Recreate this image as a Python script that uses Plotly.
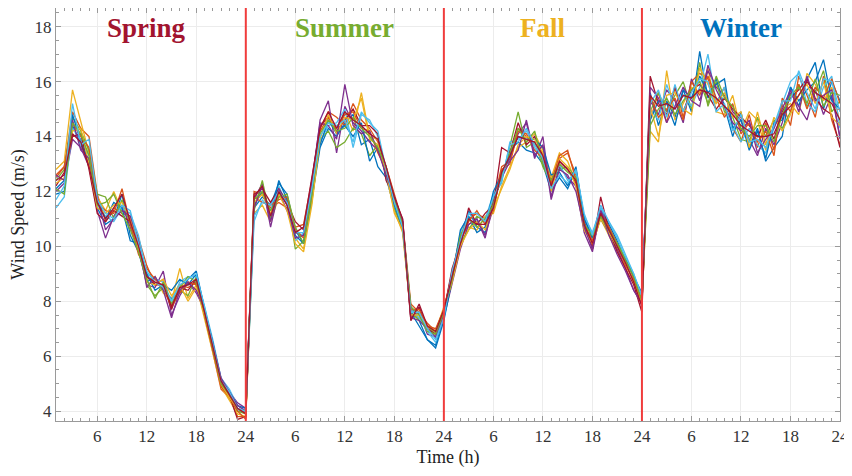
import plotly.graph_objects as go

hours = list(range(1, 97))
season_names = ["Spring", "Summer", "Fall", "Winter"]
season_colors = ["#A2142F", "#77AC30", "#EDB120", "#0072BD"]
season_centers = [12, 36, 60, 84]
season_bounds = [24, 48, 72]
tick_vals = [6, 12, 18, 24, 30, 36, 42, 48, 54, 60, 66, 72, 78, 84, 90, 96]
tick_text = ["6", "12", "18", "24"] * 4
line_colors = ["#0072BD", "#D95319", "#EDB120", "#7E2F8E", "#77AC30", "#4DBEEE", "#A2142F"]

spring = [
    [12.1, 12.4, 14.4, 13.7, 13.0, 11.4, 10.8, 11.0, 11.9, 10.4, 9.8, 8.7, 8.9, 8.4, 8.1, 8.3, 8.8, 9.1, 7.7, 6.3, 5.0, 4.7, 4.0, 4.0],
    [12.6, 12.9, 14.9, 14.3, 14.0, 11.9, 10.9, 11.4, 11.2, 11.1, 10.3, 9.3, 8.6, 8.8, 7.8, 8.6, 8.5, 8.7, 7.5, 6.2, 4.8, 4.5, 3.8, 3.8],
    [12.8, 13.1, 15.7, 14.5, 13.4, 11.8, 11.3, 12.0, 11.3, 11.0, 10.2, 8.8, 8.9, 8.3, 8.0, 9.2, 8.1, 8.6, 7.4, 6.1, 4.9, 4.4, 3.9, 3.8],
    [12.0, 12.3, 13.9, 13.6, 12.9, 11.3, 10.3, 11.1, 11.5, 10.7, 9.9, 8.6, 8.5, 9.1, 7.5, 8.2, 8.7, 8.3, 7.7, 6.5, 5.2, 4.7, 4.3, 4.1],
    [12.4, 12.8, 14.7, 14.2, 13.5, 11.9, 11.8, 11.0, 11.7, 10.8, 10.1, 8.6, 8.2, 8.5, 7.9, 8.4, 8.2, 8.9, 7.6, 6.4, 5.1, 4.6, 4.0, 3.9],
    [11.4, 11.8, 14.3, 13.9, 13.3, 11.5, 11.1, 10.9, 11.4, 11.2, 10.4, 9.0, 8.8, 8.7, 8.0, 8.7, 8.9, 8.9, 7.8, 6.6, 5.2, 4.8, 4.2, 4.0],
    [12.2, 12.7, 14.0, 14.1, 12.8, 11.2, 10.9, 11.3, 11.1, 10.9, 10.0, 8.9, 8.6, 8.6, 7.7, 8.5, 8.4, 8.8, 7.5, 6.3, 5.0, 4.6, 3.7, 3.8],
    [11.9, 12.0, 14.8, 13.8, 13.1, 11.7, 11.0, 11.6, 11.4, 10.2, 10.1, 9.0, 8.4, 8.6, 8.4, 8.8, 8.6, 9.0, 7.7, 6.5, 5.1, 4.7, 4.2, 4.1],
    [12.5, 12.9, 14.5, 14.0, 13.6, 11.6, 11.3, 11.2, 12.1, 10.8, 9.7, 9.2, 8.8, 8.5, 7.8, 8.3, 8.7, 8.6, 7.6, 6.3, 4.9, 4.5, 4.0, 3.7],
    [12.3, 12.5, 14.2, 14.3, 13.0, 11.4, 11.2, 11.5, 11.6, 11.0, 9.9, 8.7, 8.6, 8.8, 8.2, 8.6, 8.0, 8.5, 7.5, 6.4, 5.0, 4.5, 4.1, 3.9],
    [12.6, 12.4, 14.6, 13.5, 13.2, 11.8, 10.6, 11.0, 11.3, 11.1, 10.2, 8.5, 8.9, 8.4, 7.4, 8.4, 8.7, 8.4, 7.7, 6.5, 5.2, 4.7, 4.2, 4.0],
    [12.1, 11.9, 14.5, 14.1, 13.3, 11.5, 11.6, 11.9, 11.2, 10.6, 9.8, 8.8, 8.1, 8.7, 7.9, 8.5, 8.9, 8.7, 7.6, 6.3, 5.0, 4.6, 4.1, 3.9],
    [11.7, 12.2, 15.2, 13.7, 13.9, 11.7, 11.2, 11.0, 11.5, 11.3, 10.1, 9.1, 8.7, 8.5, 8.0, 8.6, 8.8, 9.0, 7.8, 6.5, 5.1, 4.7, 4.1, 4.0],
    [12.4, 12.6, 14.1, 13.8, 12.9, 11.6, 11.0, 11.4, 11.9, 10.9, 10.0, 8.9, 8.7, 8.6, 7.8, 8.5, 8.6, 8.8, 7.6, 6.4, 5.1, 4.6, 4.1, 3.9],
]

summer = [
    [11.4, 11.8, 11.5, 12.3, 11.9, 10.6, 10.1, 11.7, 13.6, 14.3, 14.0, 14.5, 14.8, 13.7, 13.9, 12.9, 12.5, 11.4, 10.6, 7.8, 7.3, 6.6, 6.4, 7.5],
    [12.0, 11.9, 11.4, 11.6, 11.4, 10.7, 10.8, 12.4, 14.3, 14.9, 14.7, 14.4, 15.2, 14.6, 14.3, 13.8, 12.9, 11.9, 10.9, 7.9, 7.6, 7.2, 6.9, 7.7],
    [11.2, 11.5, 10.9, 11.8, 11.7, 10.3, 9.9, 11.8, 14.2, 14.5, 14.3, 14.9, 14.2, 15.6, 14.0, 13.9, 12.6, 11.3, 10.5, 7.5, 7.4, 7.0, 6.9, 7.8],
    [11.7, 12.3, 10.7, 12.0, 11.3, 10.5, 10.4, 12.2, 14.6, 15.3, 13.4, 15.1, 14.5, 14.2, 13.8, 13.5, 12.8, 11.7, 11.0, 7.4, 7.6, 6.8, 6.7, 7.4],
    [11.3, 12.4, 11.0, 11.9, 11.8, 9.9, 10.2, 11.6, 13.9, 14.2, 13.6, 13.8, 14.3, 14.1, 13.3, 13.7, 12.9, 11.4, 10.7, 7.6, 7.3, 7.1, 6.8, 7.6],
    [10.9, 11.7, 11.3, 12.2, 11.5, 10.2, 10.5, 12.1, 13.8, 14.4, 14.5, 15.0, 13.6, 14.8, 14.6, 14.0, 12.5, 11.5, 10.8, 7.7, 7.4, 6.9, 6.5, 7.5],
    [11.9, 12.1, 11.6, 12.1, 11.6, 10.9, 10.6, 12.3, 14.4, 14.7, 14.2, 14.6, 15.0, 14.4, 14.4, 14.1, 12.4, 11.8, 10.9, 7.3, 7.8, 7.0, 6.8, 7.6],
    [11.5, 12.0, 11.1, 12.4, 11.7, 10.4, 10.1, 11.9, 13.7, 14.6, 14.1, 14.4, 14.0, 14.5, 13.1, 13.6, 12.6, 11.5, 10.7, 7.6, 7.1, 6.6, 6.3, 7.3],
    [11.8, 11.6, 11.5, 11.7, 11.8, 10.6, 10.3, 12.0, 14.2, 14.7, 14.3, 14.8, 14.9, 14.3, 14.2, 13.4, 12.8, 11.6, 10.8, 7.7, 7.7, 7.1, 7.0, 7.7],
    [11.6, 11.9, 11.2, 11.9, 11.3, 10.1, 9.8, 11.5, 13.9, 14.8, 14.1, 14.7, 14.6, 15.4, 13.9, 13.7, 12.7, 11.2, 10.6, 7.5, 7.5, 7.1, 6.9, 7.7],
    [11.4, 12.2, 10.9, 12.1, 11.5, 10.3, 10.4, 12.4, 14.5, 14.4, 13.9, 15.9, 14.4, 14.1, 14.2, 13.5, 12.6, 11.8, 10.9, 7.4, 7.3, 7.0, 6.7, 7.5],
    [11.7, 12.0, 11.3, 11.8, 11.9, 10.7, 10.1, 11.9, 14.1, 14.6, 14.2, 14.3, 14.7, 14.3, 14.0, 13.6, 12.9, 11.7, 10.8, 7.8, 7.5, 6.9, 6.8, 7.6],
    [11.1, 11.6, 11.5, 12.0, 11.6, 10.5, 10.5, 12.1, 14.0, 14.5, 14.4, 14.6, 13.8, 14.9, 14.5, 14.2, 12.8, 11.6, 10.7, 7.6, 7.6, 7.0, 6.6, 7.4],
    [11.8, 12.2, 11.1, 12.0, 11.5, 10.5, 10.7, 12.5, 14.3, 14.9, 14.3, 14.9, 14.6, 14.4, 14.1, 13.9, 12.9, 11.8, 11.0, 7.3, 7.9, 7.1, 6.9, 7.7],
]

fall = [
    [8.7, 10.0, 11.3, 10.7, 10.5, 11.8, 12.5, 13.5, 13.8, 13.5, 13.4, 13.0, 12.0, 12.5, 12.1, 12.8, 11.0, 10.4, 11.4, 10.8, 10.2, 9.5, 8.9, 8.1],
    [9.1, 10.4, 11.0, 11.2, 11.0, 11.6, 12.9, 13.1, 14.3, 14.0, 13.7, 13.4, 12.4, 13.2, 13.4, 12.6, 10.9, 10.0, 11.1, 10.5, 9.9, 9.4, 8.7, 8.2],
    [8.8, 10.3, 10.7, 10.6, 11.1, 11.2, 12.2, 12.9, 13.6, 13.8, 14.1, 13.5, 12.5, 13.4, 13.1, 12.3, 10.6, 10.1, 11.0, 10.4, 9.8, 9.3, 8.8, 8.0],
    [8.6, 9.9, 10.8, 11.0, 10.4, 11.4, 12.7, 13.2, 14.1, 14.5, 13.2, 14.0, 11.8, 12.9, 12.5, 12.2, 10.5, 9.8, 11.3, 10.7, 9.9, 9.2, 8.4, 7.9],
    [9.0, 10.1, 10.6, 11.1, 10.9, 11.7, 12.4, 13.6, 14.9, 13.6, 13.8, 12.9, 12.3, 12.8, 12.9, 12.5, 10.7, 10.3, 11.1, 10.6, 10.1, 9.6, 8.9, 8.1],
    [8.9, 10.5, 11.2, 10.9, 11.0, 11.9, 12.3, 13.8, 13.9, 14.2, 13.6, 13.1, 12.2, 13.0, 12.4, 12.7, 11.1, 10.5, 11.4, 10.9, 10.3, 9.6, 9.0, 8.1],
    [9.2, 10.1, 11.4, 10.8, 11.2, 11.5, 13.6, 13.4, 14.5, 13.7, 14.0, 13.3, 12.1, 13.1, 12.8, 12.3, 10.9, 9.9, 11.8, 10.6, 9.8, 9.2, 8.6, 7.6],
    [8.8, 10.6, 11.1, 10.5, 10.7, 12.0, 12.6, 13.3, 14.0, 13.9, 13.9, 13.6, 12.6, 12.7, 12.2, 12.9, 11.0, 10.3, 11.0, 10.5, 10.0, 9.5, 8.9, 8.3],
    [8.9, 10.2, 10.9, 11.3, 10.8, 11.3, 12.8, 13.0, 14.2, 14.1, 13.5, 13.2, 12.3, 13.3, 13.5, 12.4, 10.8, 10.2, 11.2, 10.7, 10.1, 9.3, 8.8, 8.0],
    [8.7, 10.0, 10.6, 10.9, 10.6, 11.4, 12.1, 12.8, 13.7, 14.0, 13.9, 13.4, 12.0, 13.2, 12.9, 12.2, 10.6, 10.1, 11.0, 10.5, 10.0, 9.4, 8.7, 7.9],
    [9.0, 10.3, 10.8, 11.0, 10.3, 11.6, 12.5, 13.1, 13.5, 14.6, 13.3, 13.7, 11.7, 12.8, 12.6, 12.0, 10.7, 9.9, 11.3, 10.4, 9.7, 9.1, 8.4, 7.9],
    [8.8, 10.4, 11.0, 10.7, 11.0, 11.5, 12.6, 13.4, 14.3, 13.8, 14.2, 13.0, 12.4, 13.0, 12.7, 12.5, 10.8, 10.4, 11.1, 10.6, 10.1, 9.5, 8.9, 8.0],
    [9.1, 10.2, 11.2, 11.2, 10.9, 11.8, 12.4, 13.7, 13.8, 14.3, 13.7, 13.2, 12.1, 12.6, 12.3, 12.8, 11.2, 10.4, 11.5, 10.9, 10.4, 9.7, 9.0, 8.2],
    [8.9, 10.1, 11.0, 10.8, 10.8, 11.4, 12.7, 13.3, 14.0, 13.9, 13.8, 13.3, 12.2, 13.1, 12.8, 12.4, 10.8, 10.1, 11.2, 10.6, 10.0, 9.4, 8.7, 7.8],
]

winter = [
    [15.6, 14.4, 15.3, 14.7, 15.7, 14.9, 17.1, 15.4, 16.1, 15.1, 14.0, 14.9, 13.6, 14.3, 13.1, 13.6, 14.0, 15.8, 15.1, 16.1, 16.7, 15.0, 16.0, 15.3],
    [14.6, 15.6, 14.5, 15.8, 14.7, 16.0, 16.3, 16.1, 15.2, 15.8, 14.3, 13.8, 14.8, 13.6, 14.5, 13.5, 15.2, 14.4, 16.2, 15.5, 14.7, 16.2, 14.6, 13.7],
    [14.2, 13.8, 16.4, 14.6, 15.2, 15.8, 15.6, 16.5, 14.9, 14.8, 15.5, 14.2, 14.9, 14.6, 13.5, 14.4, 15.0, 15.2, 14.8, 16.3, 15.9, 15.3, 15.8, 14.5],
    [15.3, 14.8, 15.7, 15.3, 14.5, 16.1, 15.3, 16.4, 15.8, 15.5, 14.9, 14.6, 13.9, 13.3, 14.3, 13.7, 14.5, 15.6, 15.1, 14.6, 15.7, 14.8, 15.5, 14.0],
    [14.9, 15.6, 14.9, 15.5, 16.0, 15.0, 16.7, 15.1, 16.0, 14.9, 14.7, 13.9, 13.8, 14.7, 14.0, 14.6, 14.3, 14.9, 15.9, 15.1, 15.6, 16.4, 14.9, 15.3],
    [15.0, 14.6, 15.9, 15.0, 15.5, 15.1, 15.8, 17.0, 15.2, 15.8, 14.4, 13.8, 14.3, 13.7, 13.4, 14.3, 15.2, 16.0, 16.3, 15.2, 14.9, 15.8, 16.2, 14.3],
    [16.2, 15.2, 14.8, 15.8, 14.9, 15.7, 15.9, 15.5, 15.0, 15.4, 15.0, 14.7, 14.4, 14.0, 14.6, 13.9, 14.9, 15.4, 15.7, 16.1, 15.4, 15.0, 14.8, 13.6],
    [14.6, 15.3, 15.2, 14.4, 15.7, 15.4, 16.2, 15.6, 15.9, 16.1, 14.3, 14.6, 13.5, 14.2, 13.2, 14.5, 14.6, 15.8, 15.3, 15.7, 16.0, 16.8, 15.3, 15.0],
    [15.5, 14.7, 15.0, 15.4, 14.6, 16.0, 15.5, 16.2, 15.4, 14.7, 15.2, 14.1, 14.5, 13.8, 14.2, 13.3, 15.4, 14.9, 15.9, 15.0, 15.8, 15.4, 16.1, 15.2],
    [15.1, 14.0, 15.5, 15.6, 15.0, 14.8, 16.5, 15.9, 15.2, 15.6, 14.7, 14.9, 13.6, 14.9, 13.7, 14.7, 14.2, 14.8, 15.5, 15.9, 15.2, 16.0, 14.7, 14.4],
    [15.8, 15.4, 14.5, 15.1, 15.8, 15.3, 15.1, 16.6, 15.7, 15.1, 14.5, 14.2, 14.6, 13.4, 13.9, 14.3, 15.0, 15.7, 14.9, 16.2, 15.3, 15.5, 15.7, 13.9],
    [14.4, 15.0, 15.4, 14.8, 15.3, 15.7, 16.0, 15.2, 16.2, 15.4, 15.1, 14.3, 14.0, 14.4, 14.4, 13.8, 14.8, 15.5, 15.8, 15.2, 16.1, 15.1, 15.6, 15.5],
    [15.2, 15.7, 14.7, 15.9, 14.9, 15.6, 16.1, 16.0, 14.9, 15.2, 14.2, 14.8, 13.8, 13.9, 13.6, 14.4, 15.3, 15.3, 16.4, 15.6, 15.0, 16.1, 16.0, 14.9],
    [15.5, 15.1, 15.2, 15.0, 15.5, 15.4, 15.7, 15.6, 15.4, 15.1, 14.8, 14.4, 14.2, 14.0, 14.0, 14.1, 14.8, 15.1, 15.5, 16.0, 15.6, 15.4, 15.2, 14.6],
]

fig = go.Figure()
for i in range(len(spring)):
    y = spring[i] + summer[i] + fall[i] + winter[i]
    fig.add_trace(go.Scatter(
        x=hours, y=y, mode="lines",
        line=dict(color=line_colors[i % len(line_colors)], width=1.3),
        showlegend=False, hoverinfo="skip",
    ))

for b in season_bounds:
    fig.add_shape(type="line", xref="x", yref="paper", x0=b, x1=b, y0=0, y1=1,
                  line=dict(color="#F03C3C", width=2))

for name, col, cx in zip(season_names, season_colors, season_centers):
    fig.add_annotation(x=cx, y=17.95, xref="x", yref="y", text="<b>%s</b>" % name,
                       showarrow=False, font=dict(family="Liberation Serif", size=27, color=col))

axis_common = dict(
    showline=True, linecolor="#9a9a9a", linewidth=1, mirror="allticks",
    ticks="inside", ticklen=5, tickcolor="#9a9a9a",
    showgrid=True, gridcolor="#ececec", gridwidth=1, zeroline=False,
    tickfont=dict(family="Liberation Serif", size=17, color="#333333"),
    automargin=False, ticklabeloverflow="allow",
)

fig.update_xaxes(
    range=[1, 96], tickmode="array", tickvals=tick_vals, ticktext=tick_text,
    minor=dict(dtick=1, ticks="inside", ticklen=3, tickcolor="#9a9a9a", showgrid=False),
    title=dict(text="Time (h)", font=dict(family="Liberation Serif", size=18, color="#222222"), standoff=6),
    **axis_common,
)
fig.update_yaxes(
    range=[3.64, 18.68], tickmode="linear", tick0=4, dtick=2,
    minor=dict(dtick=0.5, ticks="inside", ticklen=3, tickcolor="#9a9a9a", showgrid=False),
    title=dict(text="Wind Speed (m/s)", font=dict(family="Liberation Serif", size=18, color="#222222"), standoff=6),
    **axis_common,
)

# the page body adds an 8 px offset, so the figure is sized to fit the 852x476 window
fig.update_layout(
    width=844, height=460,
    margin=dict(l=48, r=12, t=0, b=47),
    paper_bgcolor="white", plot_bgcolor="white",
    font=dict(family="Liberation Serif"),
)

fig.write_html("out.html")
